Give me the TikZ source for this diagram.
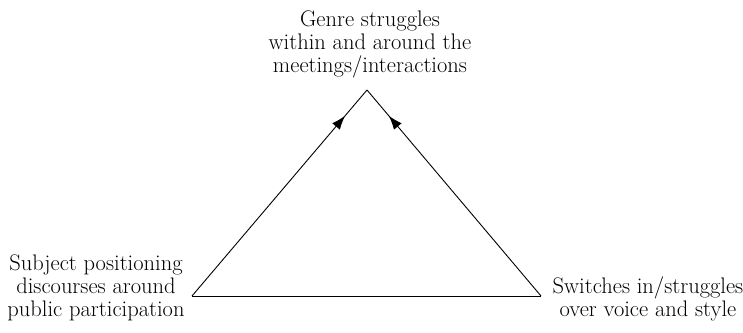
\documentclass[tikz,border=0pt]{standalone}
\usetikzlibrary{arrows.meta, decorations.markings}

\begin{document}
\begin{tikzpicture}[x=1pt, y=1pt, line width=0.9pt,
  uparrow/.style={postaction={decorate, decoration={markings,
    mark=at position 0.875 with {\arrow{Latex[length=14pt, width=10pt]}}}}},
  label/.style={align=center, inner sep=0pt, anchor=south,
    font=\fontsize{22.5}{23}\selectfont},
]
  \useasboundingbox (0,0) rectangle (743,332);
  \coordinate (L) at (192,36);
  \coordinate (R) at (541,36);
  \coordinate (T) at (367,242);
  \draw (L) -- (R);
  \draw[uparrow] (L) -- (T);
  \draw[uparrow] (R) -- (T);
  \node[label] (genre) at (370,253) {Genre struggles\\within and around the\\meetings/interactions};
  \node[label] (subject) at (96,11) {Subject positioning\\discourses around\\public participation};
  \node[label] (switches) at (648,10) {Switches in/struggles\\over voice and style};
\end{tikzpicture}
\end{document}
